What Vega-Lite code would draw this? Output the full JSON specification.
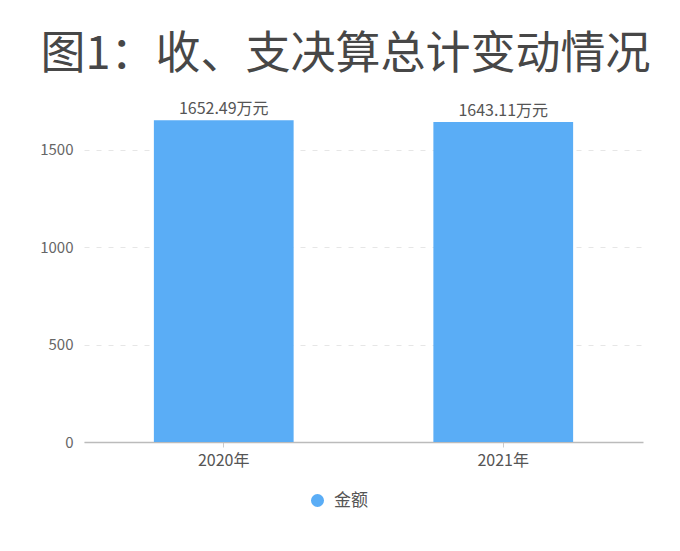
{
  "$schema": "https://vega.github.io/schema/vega-lite/v6.json",
  "width": 559,
  "height": 331,
  "autosize": {"type": "none"},
  "padding": {"left": 84, "top": 111, "right": 37, "bottom": 109},
  "background": "#ffffff",
  "config": {
    "font": "Noto Sans CJK SC",
    "view": {"stroke": null}
  },
  "title": {
    "text": "图1：收、支决算总计变动情况",
    "fontSize": 45,
    "fontWeight": "normal",
    "color": "#474747",
    "font": "Noto Sans CJK SC",
    "anchor": "middle",
    "frame": "group",
    "dx": -18,
    "offset": 23
  },
  "data": {
    "values": [
      {"year": "2020年", "value": 1652.49, "label": "1652.49万元", "series": "金额"},
      {"year": "2021年", "value": 1643.11, "label": "1643.11万元", "series": "金额"}
    ]
  },
  "layer": [
    {
      "mark": {"type": "bar"},
      "encoding": {
        "x": {
          "field": "year",
          "type": "nominal",
          "sort": null,
          "scale": {"paddingInner": 0.5, "paddingOuter": 0.25},
          "axis": {
            "title": null,
            "labelAngle": 0,
            "labelFontSize": 16,
            "labelColor": "#555555",
            "labelPadding": 5,
            "domainColor": "#bbbbbb",
            "domainWidth": 1.5,
            "tickColor": "#cccccc",
            "tickSize": 5,
            "grid": false
          }
        },
        "y": {
          "field": "value",
          "type": "quantitative",
          "scale": {"domain": [0, 1700], "nice": false},
          "axis": {
            "title": null,
            "values": [0, 500, 1000, 1500],
            "format": "d",
            "labelFontSize": 15,
            "labelColor": "#666666",
            "labelPadding": 11,
            "domain": false,
            "ticks": false,
            "grid": true,
            "gridColor": "#e6e6e6",
            "gridDash": [5, 7],
            "gridWidth": 1
          }
        },
        "color": {
          "field": "series",
          "type": "nominal",
          "scale": {"range": ["#5aadf6"]},
          "legend": {
            "title": null,
            "orient": "none",
            "legendX": 225,
            "legendY": 381,
            "symbolType": "circle",
            "symbolSize": 170,
            "symbolOpacity": 1,
            "labelFontSize": 17,
            "labelColor": "#555555",
            "labelOffset": 8
          }
        }
      }
    },
    {
      "mark": {"type": "text", "baseline": "bottom", "dy": -3, "fontSize": 16, "color": "#555555"},
      "encoding": {
        "x": {"field": "year", "type": "nominal", "sort": null},
        "y": {"field": "value", "type": "quantitative"},
        "text": {"field": "label", "type": "nominal"}
      }
    }
  ]
}
